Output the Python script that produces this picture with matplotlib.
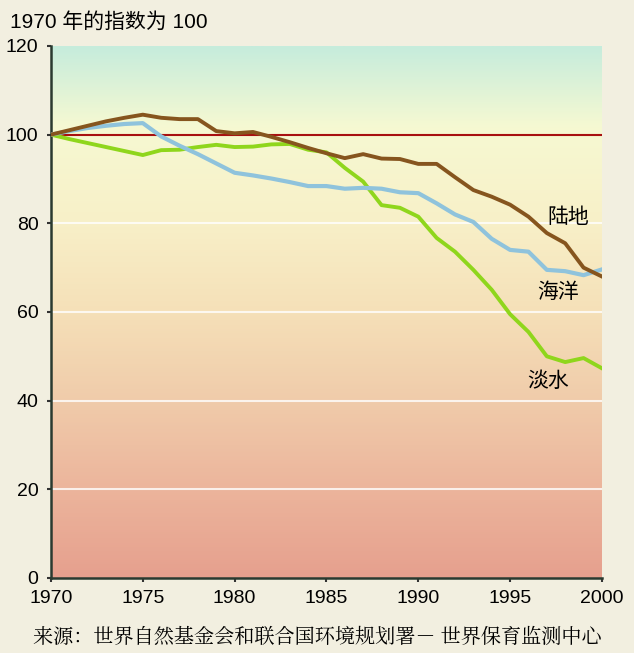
import matplotlib.pyplot as plt
import numpy as np
from matplotlib.colors import LinearSegmentedColormap

plt.rcParams['font.family'] = ['Liberation Sans', 'Noto Sans CJK SC', 'DejaVu Sans']

years = list(range(1970, 2001))
land = [100, 101, 102, 103, 103.8, 104.5, 103.8, 103.5, 103.5, 100.8, 100.3, 100.6, 99.5, 98.3, 97, 95.8,
        94.7, 95.6, 94.6, 94.5, 93.4, 93.4, 90.4, 87.5, 86, 84.2, 81.5, 77.8, 75.5, 70, 68]
ocean = [100, 100.8, 101.5, 102, 102.4, 102.6, 99.6, 97.5, 95.6, 93.5, 91.4, 90.8, 90.1, 89.3, 88.4, 88.4,
         87.8, 88, 87.8, 87, 86.8, 84.5, 82, 80.3, 76.5, 74, 73.6, 69.5, 69.2, 68.3, 69.6]
fresh = [100, 99, 98.1, 97.2, 96.3, 95.4, 96.5, 96.6, 97.2, 97.7, 97.2, 97.3, 97.8, 97.9, 96.6, 96,
         92.5, 89.4, 84.1, 83.5, 81.5, 76.7, 73.6, 69.5, 65, 59.5, 55.5, 50, 48.7, 49.6, 47.3]
yticks = [0, 20, 40, 60, 80, 100, 120]
xticks = [1970, 1975, 1980, 1985, 1990, 1995, 2000]

fig = plt.figure(figsize=(6.34, 6.53), dpi=100, facecolor='#f2efe0')
ax = fig.add_axes([0.0804, 0.1149, 0.869, 0.8147])

# fondo degradado
cmap = LinearSegmentedColormap.from_list('bg', [
    (0.0, '#e6a08e'), (0.17, '#ecb59c'), (0.33, '#f0cbaa'), (0.5, '#f5e0b8'),
    (0.67, '#f8f0c8'), (0.85, '#f6f9d2'), (1.0, '#c6ecdc')])
grad = np.linspace(0, 1, 256).reshape(-1, 1)
ax.imshow(grad, cmap=cmap, origin='lower', aspect='auto', extent=[1970, 2000, 0, 120], zorder=0)

for v in [20, 40, 60, 80]:
    ax.axhline(v, color='white', lw=1.5, alpha=0.8, zorder=1)
ax.axhline(100, color='#a81010', lw=1.5, zorder=2)

ax.plot(years, fresh, color='#8fd61c', lw=2.8, zorder=3)
ax.plot(years, ocean, color='#8fc3dc', lw=3.0, zorder=4)
ax.plot(years, land, color='#86551e', lw=2.8, zorder=5)

ax.text(1998.15, 81.4, '陆地', fontsize=15, family=['Noto Sans CJK SC'], ha='center', va='center')
ax.text(1997.6, 64.5, '海洋', fontsize=15, family=['Noto Sans CJK SC'], ha='center', va='center')
ax.text(1997.06, 44.5, '淡水', fontsize=15, family=['Noto Sans CJK SC'], ha='center', va='center')

ax.set_xlim(1970, 2000)
ax.set_ylim(0, 120)
ax.set_xticks(xticks)
ax.set_yticks(yticks)
ax.tick_params(axis='both', labelsize=14, length=3, width=1.5, color='#333333', pad=6)
for s in ['top', 'right']:
    ax.spines[s].set_visible(False)
ax.spines['left'].set_color('#2a3a30')
ax.spines['left'].set_linewidth(1.8)
ax.spines['bottom'].set_color('#2a3a30')
ax.spines['bottom'].set_linewidth(1.8)

fig.text(0.016, 0.966, '1970 年的指数为 100', fontsize=15, family=['Liberation Sans', 'Noto Sans CJK SC'], va='center')
fig.text(0.5, 0.025, '来源：世界自然基金会和联合国环境规划署－ 世界保育监测中心', fontsize=14.5,
         family=['Noto Serif CJK SC', 'Noto Sans CJK SC'], ha='center', va='center')

plt.savefig('out.png', dpi=100, facecolor=fig.get_facecolor())
